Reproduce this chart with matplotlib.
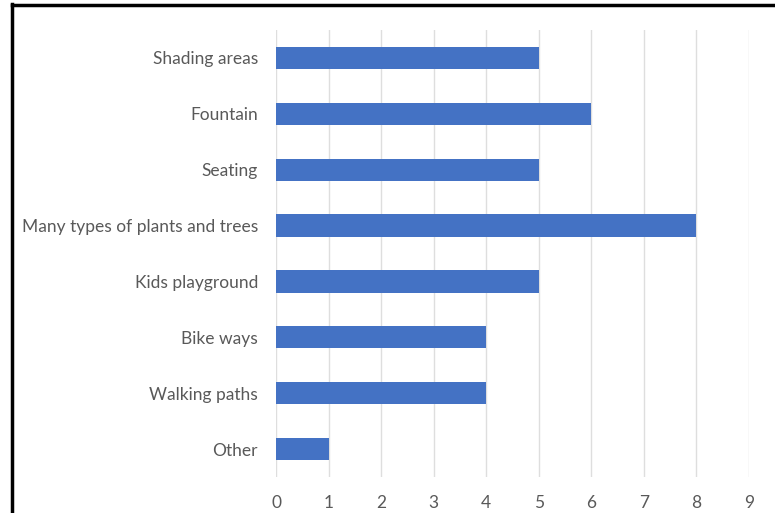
import matplotlib.pyplot as plt
from matplotlib.lines import Line2D

plt.rcParams['font.family'] = ['Lato', 'DejaVu Sans']

# categories top to bottom
categories = ['Shading areas', 'Fountain', 'Seating', 'Many types of plants and trees',
              'Kids playground', 'Bike ways', 'Walking paths', 'Other']
values = [5, 6, 5, 8, 5, 4, 4, 1]
x_ticks = [0, 1, 2, 3, 4, 5, 6, 7, 8, 9]

fig = plt.figure(figsize=(7.75, 5.13), dpi=100)
ax = fig.add_axes([276 / 775, 1 - 477 / 513, (749 - 276) / 775, (477 - 30) / 513])

pos = list(range(len(categories)))[::-1]
ax.barh(pos, values, height=0.4, color='#4472C4', zorder=3)

ax.set_xlim(0, 9)
ax.set_ylim(-0.5, len(categories) - 0.5)
ax.set_xticks(x_ticks)
ax.set_yticks(pos)
ax.set_yticklabels(categories)
ax.grid(axis='x', color='#DEDEDE', linewidth=1, zorder=0)
for s in ax.spines.values():
    s.set_visible(False)
ax.tick_params(axis='both', length=0, labelsize=12.5, colors='#595959')
ax.tick_params(axis='y', pad=13)
ax.tick_params(axis='x', pad=13)

# black frame around the picture (top and left only visible)
fig.add_artist(Line2D([12 / 775, 12 / 775], [0, 1 - 4 / 513], color='black', linewidth=2.5))
fig.add_artist(Line2D([12 / 775, 1], [1 - 5 / 513, 1 - 5 / 513], color='black', linewidth=2.5))

fig.savefig('out.png', dpi=100)
